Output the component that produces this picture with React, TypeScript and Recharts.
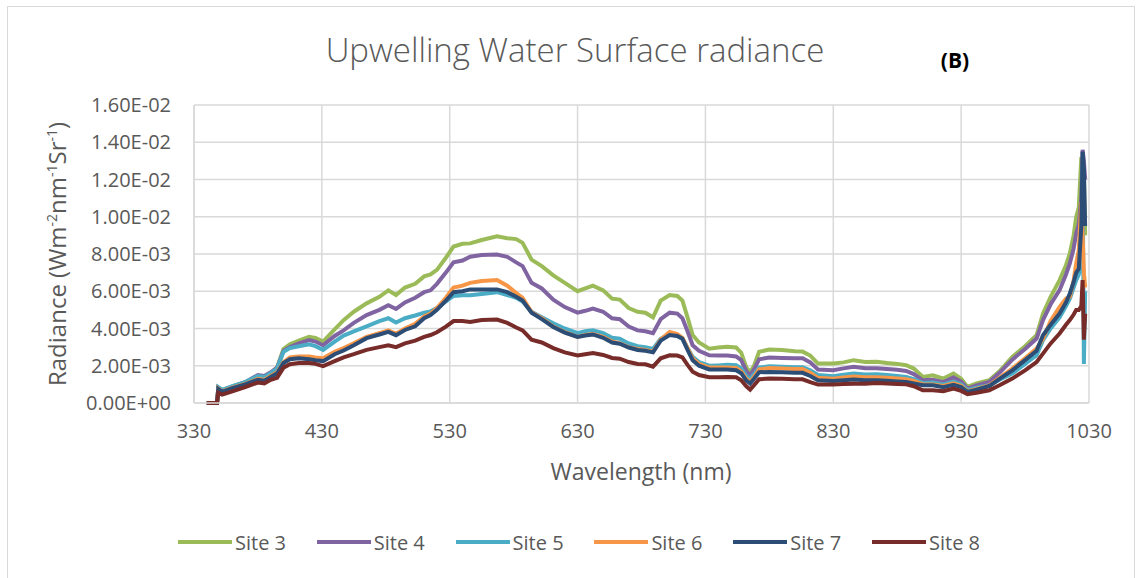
import { LineChart, Line, XAxis, YAxis, CartesianGrid } from 'recharts'

// wavelength (nm)
const wavelengths = [
  340, 348, 349, 352, 360, 370, 380, 385, 390, 395, 400, 405, 412, 420, 425, 431, 440, 447, 455, 465,
  475, 482, 488, 495, 503, 510, 515, 520, 527, 533, 540, 546, 555, 567, 575, 582, 587, 594, 602, 611,
  620, 630, 636, 642, 650, 657, 663, 670, 677, 683, 689, 695, 702, 708, 712, 716, 720, 725, 733, 740,
  747, 754, 758, 762, 765, 768, 772, 780, 790, 800, 806, 812, 818, 830, 838, 846, 855, 864, 872, 880,
  887, 893, 900, 908, 916, 924, 930, 935, 942, 952, 960, 970, 980, 989, 994, 1000, 1007, 1012, 1015, 1018,
  1020, 1022, 1024, 1025, 1026, 1027,
]

// radiance, x1e-3 W m-2 nm-1 sr-1
const site3 = [
  0, 0, 0.8, 0.65, 0.88, 1.1, 1.45, 1.4, 1.6, 1.9, 2.9, 3.15, 3.35, 3.55, 3.5, 3.3, 3.95, 4.45, 4.9, 5.35,
  5.7, 6.05, 5.8, 6.2, 6.4, 6.8, 6.9, 7.15, 7.8, 8.4, 8.55, 8.57, 8.75, 8.95, 8.85, 8.8, 8.6, 7.7, 7.35, 6.85,
  6.45, 6.0, 6.15, 6.3, 6.05, 5.6, 5.55, 5.1, 4.9, 4.85, 4.6, 5.5, 5.8, 5.75, 5.5, 4.6, 3.65, 3.25, 2.92, 2.98,
  3.02, 2.98, 2.7, 1.9, 1.65, 2.0, 2.75, 2.87, 2.85, 2.78, 2.76, 2.55, 2.12, 2.12, 2.18, 2.3, 2.2, 2.22, 2.15, 2.1,
  2.03, 1.85, 1.4, 1.49, 1.31, 1.58, 1.3, 0.86, 1.05, 1.22, 1.7, 2.47, 3.05, 3.64, 4.8, 5.7, 6.6, 7.4, 8.03, 9.0,
  10.0, 10.5, 13.2, 9.5, 12.5, 9.0,
]
const site4 = [
  0, 0, 0.82, 0.68, 0.88, 1.12, 1.5, 1.45, 1.65, 1.9, 2.8, 3.0, 3.2, 3.38, 3.3, 3.1, 3.6, 3.9, 4.3, 4.72,
  5.0, 5.25, 5.05, 5.4, 5.65, 5.95, 6.05, 6.4, 7.0, 7.55, 7.65, 7.85, 7.95, 7.97, 7.85, 7.55, 7.35, 6.45, 6.15, 5.55,
  5.15, 4.85, 4.95, 5.07, 4.9, 4.55, 4.5, 4.1, 3.9, 3.85, 3.75, 4.5, 4.85, 4.8, 4.55, 3.85, 3.1, 2.8, 2.56, 2.55,
  2.55, 2.5, 2.3, 1.7, 1.49, 1.8, 2.35, 2.44, 2.42, 2.4, 2.4, 2.18, 1.8, 1.76, 1.86, 1.94, 1.86, 1.86, 1.82, 1.78,
  1.72, 1.55, 1.22, 1.25, 1.12, 1.37, 1.15, 0.77, 0.95, 1.13, 1.62, 2.33, 2.9, 3.46, 4.45, 5.3, 6.06, 6.9, 7.49, 8.3,
  9.1, 9.6, 11.0, 13.6, 13.0, 12.0,
]
const site5 = [
  0, 0, 0.85, 0.7, 0.9, 1.12, 1.45, 1.4, 1.6, 1.85, 2.75, 2.95, 3.05, 3.15, 3.05, 2.85, 3.3, 3.62, 3.85, 4.12,
  4.4, 4.55, 4.32, 4.55, 4.7, 4.85, 4.92, 5.1, 5.45, 5.75, 5.78, 5.78, 5.85, 5.95, 5.8, 5.65, 5.45, 4.9, 4.6, 4.28,
  4.0, 3.75, 3.85, 3.9, 3.75, 3.5, 3.45, 3.2, 3.05, 3.0, 2.9, 3.45, 3.7, 3.6, 3.45, 2.95, 2.48, 2.2, 2.0, 2.02,
  2.05, 2.03, 1.85, 1.45, 1.3, 1.55, 1.9, 1.97, 1.95, 1.92, 1.92, 1.75, 1.5, 1.44, 1.52, 1.58, 1.53, 1.54, 1.5, 1.45,
  1.4, 1.28, 1.08, 1.1, 1.0, 1.15, 1.0, 0.7, 0.82, 0.95, 1.25, 1.58, 2.1, 2.56, 3.37, 4.0, 4.6, 5.2, 5.6, 6.2,
  6.6, 6.9, 7.5, 12.8, 2.1, 6.0,
]
const site6 = [
  0, 0, 0.78, 0.62, 0.82, 1.02, 1.3, 1.25, 1.45, 1.65, 2.2, 2.45, 2.5, 2.5, 2.45, 2.4, 2.75, 2.95, 3.2, 3.55,
  3.75, 3.9, 3.72, 4.0, 4.25, 4.65, 4.8, 5.1, 5.65, 6.2, 6.3, 6.45, 6.55, 6.6, 6.3, 5.9, 5.65, 4.88, 4.55, 4.1,
  3.8, 3.55, 3.65, 3.7, 3.55, 3.3, 3.2, 3.0, 2.9, 2.85, 2.75, 3.4, 3.82, 3.7, 3.5, 2.95, 2.4, 2.1, 1.9, 1.9,
  1.9, 1.88, 1.7, 1.3, 1.15, 1.4, 1.8, 1.88, 1.85, 1.82, 1.82, 1.62, 1.35, 1.3, 1.37, 1.42, 1.38, 1.38, 1.35, 1.32,
  1.28, 1.18, 1.0, 1.0, 0.92, 1.05, 0.92, 0.62, 0.75, 0.95, 1.35, 1.85, 2.4, 2.92, 3.45, 4.4, 5.16, 5.6, 5.7, 6.6,
  7.5, 8.2, 10.8, 9.0, 7.0, 6.2,
]
const site7 = [
  0, 0, 0.75, 0.6, 0.8, 1.0, 1.25, 1.2, 1.4, 1.6, 2.15, 2.35, 2.4, 2.35, 2.3, 2.25, 2.62, 2.82, 3.1, 3.48,
  3.68, 3.82, 3.64, 3.92, 4.12, 4.55, 4.72, 5.0, 5.5, 5.95, 6.0, 6.1, 6.1, 6.1, 5.95, 5.7, 5.5, 4.85, 4.5, 4.08,
  3.78, 3.55, 3.62, 3.68, 3.5, 3.25, 3.18, 2.98, 2.85, 2.8, 2.72, 3.35, 3.65, 3.6, 3.45, 2.85, 2.3, 2.0, 1.8, 1.8,
  1.8, 1.76, 1.6, 1.2, 1.05, 1.3, 1.65, 1.67, 1.65, 1.63, 1.62, 1.45, 1.22, 1.18, 1.22, 1.26, 1.22, 1.22, 1.2, 1.16,
  1.13, 1.05, 0.95, 0.95, 0.85, 0.98, 0.85, 0.59, 0.72, 0.91, 1.3, 1.75, 2.3, 2.8, 3.64, 4.2, 4.8, 5.4, 5.88, 6.5,
  7.0, 7.2, 9.5, 13.5, 12.5, 9.5,
]
const site8 = [
  0, 0, 0.55, 0.45, 0.62, 0.85, 1.1, 1.05, 1.25, 1.35, 1.9, 2.08, 2.15, 2.15, 2.1, 1.98, 2.25, 2.45, 2.62, 2.85,
  3.0, 3.1, 3.0, 3.2, 3.35, 3.55, 3.65, 3.8, 4.1, 4.4, 4.4, 4.35, 4.45, 4.48, 4.3, 4.05, 3.9, 3.4, 3.25, 2.95,
  2.72, 2.55, 2.62, 2.68, 2.58, 2.42, 2.38, 2.2, 2.1, 2.08, 1.95, 2.4, 2.56, 2.55, 2.45, 2.05, 1.68, 1.5, 1.38, 1.38,
  1.4, 1.38, 1.22, 0.9, 0.72, 0.95, 1.28, 1.31, 1.3, 1.28, 1.27, 1.12, 0.99, 0.99, 1.02, 1.04, 1.03, 1.08, 1.05, 1.02,
  1.0, 0.9, 0.68, 0.68, 0.63, 0.77, 0.65, 0.47, 0.55, 0.68, 0.95, 1.31, 1.75, 2.2, 2.65, 3.2, 3.73, 4.2, 4.45, 4.75,
  5.0, 5.0, 5.2, 6.6, 3.4, 4.8,
]

const seriesNames = ['Site 3', 'Site 4', 'Site 5', 'Site 6', 'Site 7', 'Site 8']
const seriesValues = [site3, site4, site5, site6, site7, site8]
const seriesColors = ['#9BBB59', '#8064A2', '#4BACC6', '#F79646', '#2C4D75', '#772C2A']

const xTicks = [330, 430, 530, 630, 730, 830, 930, 1030]
const yTicks = [0, 0.002, 0.004, 0.006, 0.008, 0.01, 0.012, 0.014, 0.016]

const data = wavelengths.map((wl, i) => {
  const row: Record<string, number> = { wl }
  seriesNames.forEach((name, k) => {
    row[name] = seriesValues[k][i] * 1e-3
  })
  return row
})

function sci(v: number) {
  const [m, e] = v.toExponential(2).split('e')
  const sign = e.startsWith('-') ? '-' : '+'
  return `${m}E${sign}${e.replace(/[+-]/, '').padStart(2, '0')}`
}

const FONT = '"Open Sans", sans-serif'
const GREY = '#595959'

export default function App() {
  return (
    <div style={{ position: 'absolute', left: 0, top: 0, width: 1141, height: 578, background: '#fff', fontFamily: FONT }}>
      <div style={{ position: 'absolute', left: 7, top: 6, width: 1126, height: 580, border: '1.5px solid #D9D9D9' }} />
      <LineChart width={1141} height={578} data={data} margin={{ top: 105, right: 52, left: 44, bottom: 145 }}>
        <CartesianGrid stroke="#D9D9D9" strokeWidth={1.5} />
        <XAxis
          dataKey="wl"
          type="number"
          domain={[330, 1030]}
          ticks={xTicks}
          height={30}
          tickLine={false}
          tickSize={0}
          tickMargin={21}
          axisLine={{ stroke: '#D9D9D9', strokeWidth: 1.5 }}
          tick={{ fill: GREY, fontSize: 20, fontFamily: FONT }}
        />
        <YAxis
          type="number"
          domain={[0, 0.016]}
          ticks={yTicks}
          width={150}
          tickFormatter={sci}
          tickLine={false}
          tickSize={0}
          tickMargin={23}
          axisLine={{ stroke: '#D9D9D9', strokeWidth: 1.5 }}
          tick={{ fill: GREY, fontSize: 20, fontFamily: FONT }}
        />
        {seriesNames.map((name, k) => (
          <Line
            key={name}
            type="linear"
            dataKey={name}
            stroke={seriesColors[k]}
            strokeWidth={4}
            dot={false}
            isAnimationActive={false}
          />
        ))}
      </LineChart>
      <svg width={1141} height={578} style={{ position: 'absolute', left: 0, top: 0, pointerEvents: 'none' }}>
        <text x={575} y={62} textAnchor="middle" fill={GREY} fontSize={33} fontWeight={300} fontFamily={FONT}>
          Upwelling Water Surface radiance
        </text>
        <text x={955} y={68} textAnchor="middle" fill="#000" fontSize={21} fontWeight={700} fontFamily={FONT}>
          (B)
        </text>
        <text x={641} y={480} textAnchor="middle" fill={GREY} fontSize={23} fontFamily={FONT}>
          Wavelength (nm)
        </text>
        <text transform="translate(66,254) rotate(-90)" textAnchor="middle" fill={GREY} fontSize={24} fontFamily={FONT}>
          Radiance (Wm
          <tspan fontSize={14} dy={-9}>-2</tspan>
          <tspan dy={9}>nm</tspan>
          <tspan fontSize={14} dy={-9}>-1</tspan>
          <tspan dy={9}>Sr</tspan>
          <tspan fontSize={14} dy={-9}>-1</tspan>
          <tspan dy={9}>)</tspan>
        </text>
      </svg>
      {seriesNames.map((name, k) => (
        <div
          key={name}
          style={{ position: 'absolute', left: 178 + k * 138.8, top: 528, height: 28, display: 'flex', alignItems: 'center', color: GREY, fontSize: 20 }}
        >
          <span style={{ display: 'inline-block', width: 54, height: 4, background: seriesColors[k], marginRight: 3 }} />
          {name}
        </div>
      ))}
    </div>
  )
}
